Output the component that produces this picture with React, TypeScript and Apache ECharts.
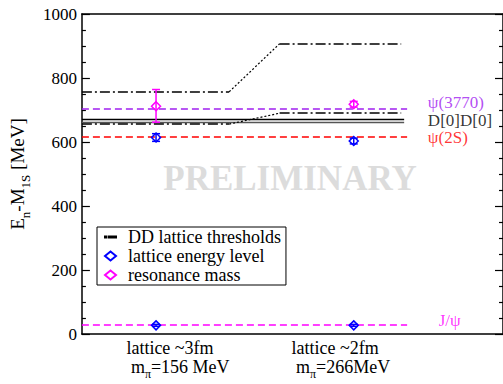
import React, { useEffect, useRef } from 'react';
import * as echarts from 'echarts';

// ---------- data ----------
const ensembleX = [1, 2];
const ensembleNames = ['lattice ~3fm', 'lattice ~2fm'];
const pionMasses = ['156 MeV', '266MeV'];

// DD thresholds on the lattice (lower / upper) for each ensemble
const thresholdLow = [656, 690];
const thresholdHigh = [757, 907];

// physical reference levels (E - M_1S) [MeV]
const refNames = ['ψ(3770)', 'ψ(2S)', 'J/ψ'];
const refValues = [704, 617, 28];
const refColors = ['#a020f0', '#ff0000', '#ff00ff'];
const refLabelValues = [725, 614, 42];

// physical D D-bar thresholds
const ddPhysValues = [670, 662];
const ddPhysColors = ['#000000', '#555555'];
const ddLabel = 'D[0]D[0]';
const ddLabelValue = 668;

// lattice energy levels: [ensemble, value, err+, err-]
const latticeLevels = [
  [1, 614, 12, 12],
  [2, 603, 9, 9],
  [1, 27, 3, 3],
  [2, 27, 3, 3],
];
// resonance masses: [ensemble, value, err+, err-]
const resonanceMass = [
  [1, 712, 52, 50],
  [2, 718, 9, 9],
];

const yTicks = [0, 200, 400, 600, 800, 1000];

const FONT = "'Liberation Serif', 'DejaVu Serif', serif";

export default function App() {
  const ref = useRef<HTMLDivElement>(null);

  useEffect(() => {
    if (!ref.current) return;
    const chart = echarts.init(ref.current, undefined, { renderer: 'svg' });

    // data axis (top, index 1)
    const xMin = 0.625;
    const xMax = 2.755;
    const stepA = 1.37;
    const stepB = 1.625;
    const thrEnd = 2.24;
    const refEnd = 2.27;
    const ddEnd = 2.255;
    const labelX = 2.375;

    const dashDot = [10, 3, 2, 3];
    const XI = 1;

    const thresholdSeries: any[] = [];
    [thresholdLow, thresholdHigh].forEach((thr) => {
      thresholdSeries.push({
        name: 'DD lattice thresholds',
        type: 'lines',
        coordinateSystem: 'cartesian2d',
        xAxisIndex: XI,
        color: '#000',
        lineStyle: { color: '#000', width: 1.5, type: dashDot, opacity: 1 },
        data: [
          { coords: [[xMin, thr[0]], [stepA, thr[0]]] },
          { coords: [[stepB, thr[1]], [thrEnd, thr[1]]] },
        ],
        silent: true,
        z: 3,
      });
      thresholdSeries.push({
        name: 'DD lattice thresholds',
        type: 'lines',
        coordinateSystem: 'cartesian2d',
        xAxisIndex: XI,
        color: '#000',
        lineStyle: { color: '#000', width: 1.2, type: [2, 2], opacity: 1 },
        data: [{ coords: [[stepA, thr[0]], [stepB, thr[1]]] }],
        silent: true,
        z: 3,
      });
    });

    const refLineSeries = refValues.map((v, i) => ({
      type: 'lines',
      coordinateSystem: 'cartesian2d',
      xAxisIndex: XI,
      lineStyle: { color: refColors[i], width: 1.6, type: [7, 4], opacity: 1 },
      data: [{ coords: [[xMin, v], [refEnd, v]] }],
      silent: true,
      z: 2,
    }));

    const ddPhysSeries = ddPhysValues.map((v, i) => ({
      type: 'lines',
      coordinateSystem: 'cartesian2d',
      xAxisIndex: XI,
      lineStyle: { color: ddPhysColors[i], width: 1.4, type: 'solid', opacity: 1 },
      data: [{ coords: [[xMin, v], [ddEnd, v]] }],
      silent: true,
      z: 2,
    }));

    const errBar = (data: number[][], color: string) => ({
      type: 'custom',
      xAxisIndex: XI,
      silent: true,
      z: 6,
      renderItem: (_p: any, api: any) => {
        const x = api.value(0);
        const y = api.value(1);
        const up = api.value(2);
        const dn = api.value(3);
        const t = api.coord([x, y + up]);
        const b = api.coord([x, y - dn]);
        const hw = 4;
        const st = { stroke: color, lineWidth: 1.5 };
        return {
          type: 'group',
          children: [
            { type: 'line', shape: { x1: t[0], y1: t[1], x2: b[0], y2: b[1] }, style: st },
            { type: 'line', shape: { x1: t[0] - hw, y1: t[1], x2: t[0] + hw, y2: t[1] }, style: st },
            { type: 'line', shape: { x1: b[0] - hw, y1: b[1], x2: b[0] + hw, y2: b[1] }, style: st },
          ],
        };
      },
      data,
    });

    const labelData: any[] = refNames.map((n, i) => ({
      name: n,
      value: [i === 2 ? labelX + 0.055 : labelX, refLabelValues[i]],
      label: { color: refColors[i] },
    }));
    labelData.push({ name: ddLabel, value: [labelX, ddLabelValue], label: { color: '#000' } });

    const option: any = {
      animation: false,
      textStyle: { fontFamily: FONT },
      grid: { left: 77, right: 0, top: 14, bottom: 50 },
      xAxis: [
        {
          // bottom axis: carries the ensemble labels
          type: 'value', min: 0.7305, max: 3.2814, position: 'bottom',
          axisLine: { show: true, onZero: false, lineStyle: { color: '#000', width: 1.5 } },
          axisTick: { show: false }, splitLine: { show: false },
          axisLabel: {
            customValues: ensembleX,
            align: 'left',
            margin: 3,
            formatter: (v: number) => {
              const i = Math.round(v) - 1;
              return `{a|${ensembleNames[i]}}\n{b| m}{sub|π}{b|=${pionMasses[i]}}`;
            },
            rich: {
              a: { fontSize: 18, fontFamily: FONT, color: '#000', lineHeight: 21 },
              b: { fontSize: 18, fontFamily: FONT, color: '#000', lineHeight: 22, verticalAlign: 'top' },
              sub: { fontSize: 12, fontFamily: FONT, color: '#000', lineHeight: 22, verticalAlign: 'bottom' },
            },
          },
        },
        {
          // top axis: data coordinate for all marks
          type: 'value', min: xMin, max: xMax, position: 'top',
          axisLine: { show: true, onZero: false, lineStyle: { color: '#000', width: 1.5 } },
          axisTick: { show: false }, axisLabel: { show: false }, splitLine: { show: false },
        },
      ],
      yAxis: [
        {
          type: 'value', min: 0, max: 1000, interval: 200, position: 'left',
          axisLine: { show: true, lineStyle: { color: '#000', width: 1.5 } },
          axisTick: { show: true, inside: true, length: 8, lineStyle: { color: '#000', width: 1.2 } },
          minorTick: { show: true, splitNumber: 4, length: 4, lineStyle: { color: '#000', width: 1.2 } },
          axisLabel: {
            fontSize: 17, color: '#000', fontFamily: FONT, margin: 5,
            customValues: yTicks,
            formatter: (v: number) => String(v),
          },
          splitLine: { show: false },
          name: '{a|E}{sub|n}{a|-M}{sub|1S}{a| [MeV]}',
          nameLocation: 'middle',
          nameGap: 47,
          nameTextStyle: {
            rich: {
              a: { fontSize: 19, fontFamily: FONT, color: '#000', lineHeight: 24, verticalAlign: 'top' },
              sub: { fontSize: 13, fontFamily: FONT, color: '#000', lineHeight: 24, verticalAlign: 'bottom' },
            },
          },
        },
        {
          type: 'value', min: 0, max: 1000, interval: 200, position: 'right',
          axisLine: { show: true, lineStyle: { color: '#000', width: 1.5 } },
          axisTick: { show: true, inside: true, length: 8, lineStyle: { color: '#000', width: 1.2 } },
          minorTick: { show: true, splitNumber: 4, length: 4, lineStyle: { color: '#000', width: 1.2 } },
          axisLabel: { show: false },
          splitLine: { show: false },
        },
      ],
      legend: {
        left: 97, top: 227,
        orient: 'vertical',
        borderColor: '#000', borderWidth: 1, borderRadius: 0,
        padding: [1, 5, 1, 7],
        itemWidth: 11, itemHeight: 9, itemGap: 1,
        textStyle: { fontSize: 18, fontFamily: FONT, color: '#000', padding: [0, 0, 0, 7] },
        data: [
          { name: 'DD lattice thresholds', icon: 'path://M0,0h1.4v1.4h-1.4zM4.5,0h9v1.4h-9z', itemStyle: { color: '#000' } },
          { name: 'lattice energy level', icon: 'diamond' },
          { name: 'resonance mass', icon: 'diamond' },
        ],
      },
      graphic: [
        {
          type: 'text', x: 290, y: 178, z: 0, silent: true,
          style: {
            text: 'PRELIMINARY', font: `bold 35px ${FONT}`, fill: '#dcdcdc',
            align: 'center', verticalAlign: 'middle',
          },
        },
      ],
      series: [
        ...thresholdSeries,
        ...refLineSeries,
        ...ddPhysSeries,
        errBar(latticeLevels, '#0000ff'),
        errBar(resonanceMass, '#ff00ff'),
        {
          name: 'lattice energy level', type: 'scatter', xAxisIndex: XI, symbol: 'diamond', symbolSize: 9,
          itemStyle: { color: 'rgba(0,0,0,0)', borderColor: '#0000ff', borderWidth: 1.5, opacity: 1 },
          data: latticeLevels.map((d) => [d[0], d[1]]), z: 7,
        },
        {
          name: 'resonance mass', type: 'scatter', xAxisIndex: XI, symbol: 'diamond', symbolSize: 9,
          itemStyle: { color: 'rgba(0,0,0,0)', borderColor: '#ff00ff', borderWidth: 1.5, opacity: 1 },
          data: resonanceMass.map((d) => [d[0], d[1]]), z: 7,
        },
        {
          type: 'scatter', xAxisIndex: XI, symbolSize: 0, silent: true,
          label: { show: true, position: 'right', distance: 0, formatter: '{b}', fontSize: 17, fontFamily: FONT },
          data: labelData, z: 8,
        },
      ],
    };

    chart.setOption(option);
    return () => chart.dispose();
  }, []);

  return (
    <div
      ref={ref}
      style={{ position: 'fixed', left: 0, top: 0, width: 503, height: 384, background: '#fff' }}
    />
  );
}
